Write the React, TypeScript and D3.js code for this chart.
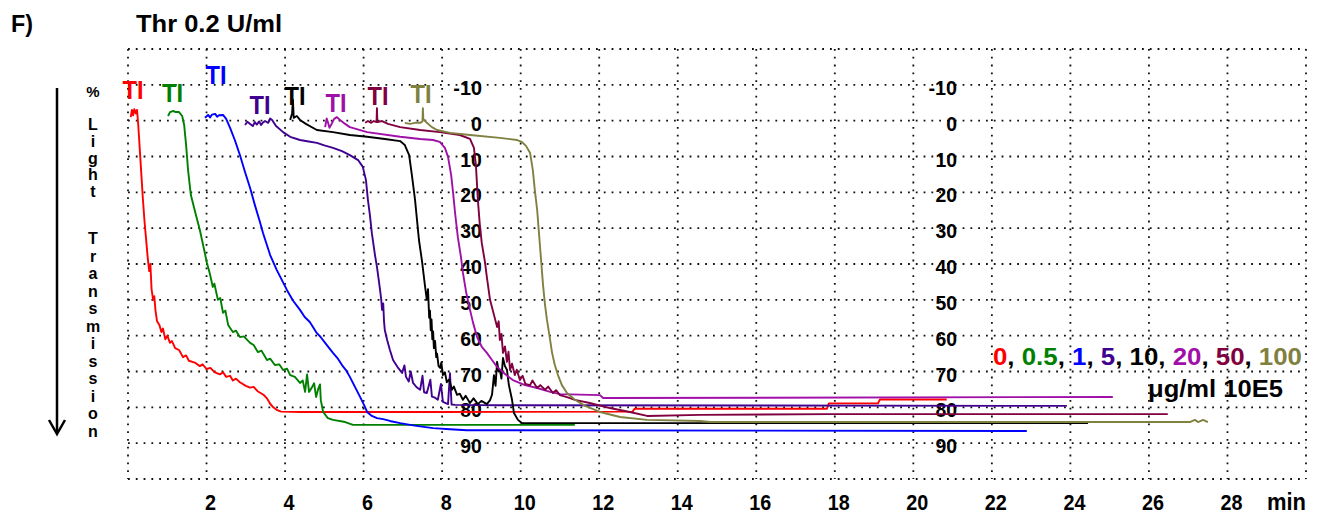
import React from "react";
import * as d3 from "d3";

// ---------- data (time in min, % light transmission; downward = aggregation) ----------
const redData: [number, number][] = [
  [0.07, -1], [0.1, -3], [0.13, -1.5], [0.16, -3.2], [0.2, -2], [0.23, -3], [0.26, 1], [0.3, 8],
  [0.34, 15], [0.38, 22], [0.42, 28], [0.46, 33], [0.5, 38], [0.54, 42], [0.57, 40], [0.6, 47],
  [0.64, 50], [0.67, 49], [0.7, 53], [0.74, 56], [0.8, 57], [0.85, 59], [0.89, 58], [0.95, 61],
  [1.0, 60], [1.07, 62], [1.12, 61.5], [1.2, 63.5], [1.3, 64], [1.4, 66], [1.48, 65.5], [1.55, 67],
  [1.7, 67.5], [1.83, 68.5], [1.9, 68], [2.0, 69.3], [2.1, 69], [2.2, 70.2], [2.34, 70.8], [2.42, 70.2],
  [2.5, 71.5], [2.6, 71.2], [2.67, 72.5], [2.75, 72], [2.85, 73], [3.0, 74], [3.11, 74.5], [3.2, 74.3],
  [3.3, 75.5], [3.45, 76.5], [3.54, 77.5], [3.62, 79], [3.7, 80], [3.8, 80.8], [3.9, 81.2], [4.4, 81.3],
  [8, 81.3], [12.85, 81.2], [12.9, 80.4], [17.8, 80.4], [17.85, 78.9], [19.1, 78.9], [19.15, 77.8],
  [20.85, 77.8],
];
const greenData: [number, number][] = [
  [1.02, -1.3], [1.07, -2.4], [1.15, -2.7], [1.22, -2.4], [1.3, -2.4], [1.38, -1.3], [1.43, 1.2],
  [1.48, 6.8], [1.53, 13.8], [1.6, 20.7], [1.71, 25.5], [1.83, 30.5], [1.94, 36.1], [2.01, 39.7],
  [2.08, 42.5], [2.16, 46.4], [2.2, 45.5], [2.29, 50], [2.35, 49.5], [2.42, 53.6], [2.48, 53], [2.55, 57],
  [2.67, 59], [2.75, 58.6], [2.85, 60.4], [2.95, 60.2], [3.11, 62], [3.2, 62.6], [3.31, 64.6], [3.4, 64.2],
  [3.54, 66.8], [3.62, 66.4], [3.74, 68.2], [3.85, 68], [3.95, 69.6], [4.05, 69.2], [4.13, 71],
  [4.25, 71.5], [4.38, 73.2], [4.45, 72.5], [4.51, 75.7], [4.56, 70.8], [4.61, 75.7], [4.68, 74.5],
  [4.74, 73.3], [4.79, 77.1], [4.84, 75], [4.89, 73.6], [4.91, 78], [4.97, 81.3], [5.09, 83], [5.22, 83.5],
  [5.53, 84.1], [5.73, 84.9], [11.38, 84.9],
];
const blueData: [number, number][] = [
  [1.96, -0.8], [2.04, -1.6], [2.09, -0.9], [2.14, -1.7], [2.22, -1.9], [2.27, -1.1], [2.32, -1.5],
  [2.42, -1.6], [2.5, -0.5], [2.6, 2.0], [2.72, 5.4], [2.85, 9.6], [2.98, 14.3], [3.11, 18.8],
  [3.23, 23.5], [3.36, 28.3], [3.44, 31.4], [3.62, 37.5], [3.79, 41.7], [4.05, 47.3], [4.2, 50.2],
  [4.38, 52.8], [4.5, 54.8], [4.63, 56.2], [4.81, 59.3], [4.9, 60.3], [5.02, 62.0], [5.22, 64.8],
  [5.35, 66.5], [5.45, 68.2], [5.55, 69.6], [5.65, 71.5], [5.78, 74.3], [5.91, 77.1], [6.01, 79.3],
  [6.09, 81.3], [6.21, 82.4], [6.34, 83], [6.5, 83.3], [6.67, 83.8], [6.93, 84.4], [7.3, 85.1],
  [7.77, 85.8], [8.2, 86.1], [8.63, 86.4], [22.89, 86.6],
];
const indigoData: [number, number][] = [
  [2.98, 1.2], [3.04, 0.3], [3.11, 0.9], [3.18, 1.5], [3.23, 0.4], [3.28, 1.1], [3.34, 0.2], [3.39, 1.2],
  [3.44, 0.5], [3.49, 0.1], [3.57, 0.6], [3.62, -0.6], [3.67, -0.2], [3.77, 1.5], [3.95, 3.2],
  [4.13, 4.5], [4.38, 5.4], [4.6, 5.8], [4.81, 6.2], [5.0, 6.9], [5.22, 7.6], [5.45, 8.5], [5.65, 9.6],
  [5.86, 11.0], [5.98, 12.9], [6.06, 16.6], [6.11, 22.1], [6.16, 26.3], [6.21, 31.4], [6.29, 37.5],
  [6.34, 40.8], [6.38, 44], [6.42, 47.3], [6.45, 50], [6.47, 52.8], [6.5, 51], [6.52, 56], [6.54, 58.4],
  [6.6, 61.2], [6.67, 64.0], [6.75, 66.8], [6.88, 69.0], [6.98, 70.4], [7.04, 68.3], [7.08, 71.5],
  [7.15, 72.8], [7.2, 70], [7.26, 73.2], [7.35, 74.4], [7.44, 75.1], [7.5, 71.2], [7.54, 75.8],
  [7.61, 76.0], [7.7, 72.3], [7.74, 77.0], [7.8, 77.2], [7.89, 77.9], [7.97, 73.5], [8.02, 78.5],
  [8.15, 79.1], [8.2, 70.5], [8.24, 79.2], [8.33, 79.3], [9.5, 79.4], [23.91, 79.6],
];
const blackData: [number, number][] = [
  [4.13, -0.2], [4.18, -2.1], [4.2, -5.8], [4.22, -0.8], [4.3, -1.3], [4.38, -0.2], [4.53, 0.9],
  [4.81, 2.6], [5.22, 3.2], [5.65, 4.0], [6.09, 4.5], [6.54, 5.1], [6.93, 5.7], [7.05, 6.8], [7.16, 9.6],
  [7.23, 15.2], [7.31, 22.1], [7.36, 27.7], [7.41, 33.3], [7.49, 39.4], [7.56, 45.8], [7.61, 50],
  [7.64, 47], [7.67, 55], [7.69, 53], [7.71, 58.5], [7.73, 55.5], [7.75, 61], [7.77, 58.8], [7.79, 63.5],
  [7.82, 61.5], [7.85, 66], [7.87, 65], [7.91, 68.5], [7.95, 69], [7.98, 67.5], [8.02, 71], [8.07, 70.2],
  [8.12, 73], [8.18, 72.2], [8.25, 75.1], [8.3, 74.2], [8.38, 76.5], [8.45, 76.2], [8.53, 77.9],
  [8.6, 76.8], [8.71, 78.8], [8.8, 77.5], [8.91, 79.1], [9.0, 78.2], [9.14, 79.1], [9.22, 78],
  [9.27, 76.5], [9.32, 71], [9.36, 74], [9.4, 67.3], [9.44, 70], [9.47, 69.5], [9.51, 72], [9.55, 66.2],
  [9.6, 68.5], [9.65, 69.5], [9.7, 73.8], [9.78, 77.9], [9.83, 81.6], [9.93, 83.5], [10.03, 84.4],
  [24.45, 84.4],
];
const purpleData: [number, number][] = [
  [5.02, 1.8], [5.06, -0.6], [5.09, 0.4], [5.13, 2.0], [5.17, 1.2], [5.25, -0.5], [5.32, -1.0],
  [5.4, -0.2], [5.53, 0.9], [5.65, 1.8], [6.09, 3.2], [6.93, 4.5], [7.44, 5.1], [7.77, 5.4], [7.94, 5.9],
  [8.07, 7.6], [8.15, 10.1], [8.23, 15.2], [8.28, 20.2], [8.33, 25.8], [8.4, 32.5], [8.48, 38.1],
  [8.53, 42.5], [8.61, 47.8], [8.71, 52.8], [8.79, 56.5], [8.89, 60.4], [9.01, 63.1], [9.14, 64.8],
  [9.27, 66.8], [9.4, 68.7], [9.6, 70.7], [9.8, 72.4], [10.11, 73.8], [10.42, 74.6], [10.75, 75.7],
  [11.0, 76.3], [12.02, 76.6], [12.1, 77.4], [25.08, 77.1],
];
const maroonData: [number, number][] = [
  [6.04, 0.6], [6.11, 0.1], [6.19, 0.6], [6.26, 0.1], [6.33, 0.4], [6.34, -3.5], [6.35, 0.4],
  [6.47, 0.1], [6.62, 0.9], [6.93, 1.8], [7.44, 2.6], [7.94, 3.2], [8.45, 4.0], [8.71, 5.1], [8.81, 7.6],
  [8.86, 12.4], [8.91, 22.1], [8.96, 29.1], [9.01, 34.2], [9.09, 39.4], [9.14, 43.7], [9.22, 50.0],
  [9.32, 54.2], [9.4, 57.6], [9.44, 56], [9.47, 61.2], [9.51, 59.5], [9.55, 64.8], [9.6, 63],
  [9.65, 67.3], [9.69, 64.5], [9.73, 69.6], [9.78, 67.8], [9.85, 71], [9.9, 69.5], [9.98, 72.4],
  [10.05, 71.2], [10.12, 73.5], [10.24, 73.8], [10.3, 72.5], [10.42, 74.6], [10.5, 73.8], [10.62, 75.1],
  [10.7, 74.2], [10.82, 76], [10.9, 75.2], [11.0, 76.6], [11.2, 77.2], [11.38, 77.9], [11.76, 78.8],
  [12.27, 80.2], [12.78, 81.3], [13.22, 82.4], [14.57, 82.1], [17.88, 81.9], [26.48, 81.9],
];
const oliveData: [number, number][] = [
  [7.05, 0.6], [7.18, 0.9], [7.31, 0.6], [7.44, 0.6], [7.5, 0.2], [7.51, -3.5], [7.52, -0.5],
  [7.61, 0.6], [7.74, 1.8], [7.87, 2.6], [8.2, 3.4], [8.71, 4.0], [9.47, 4.8], [9.91, 5.4], [10.03, 5.9],
  [10.14, 7.1], [10.24, 9.0], [10.31, 13.8], [10.36, 19.3], [10.42, 24.9], [10.47, 31.9], [10.52, 38.9],
  [10.57, 45.9], [10.62, 51.4], [10.67, 55.6], [10.75, 61.2], [10.8, 64.8], [10.87, 68.2], [10.95, 71],
  [11.05, 73.8], [11.18, 76.0], [11.38, 77.9], [11.64, 79.6], [12.02, 81.3], [12.53, 82.7],
  [13.22, 83.5], [14.57, 83.8], [14.82, 84.1], [27.04, 84.1], [27.17, 83.5], [27.25, 84.1],
  [27.38, 83.5], [27.5, 84.1],
];

const seriesData = [redData, greenData, blueData, indigoData, blackData, purpleData, maroonData, oliveData];
const seriesColors = ["#ff0000", "#008000", "#0000ff", "#400090", "#000000", "#a010a8", "#800040", "#808040"];
const concentrations = ["0", "0.5", "1", "5", "10", "20", "50", "100"];
// "TI" annotation anchors (min, %) for each trace
const tiTimes = [0.127, 1.133, 2.241, 3.361, 4.253, 5.297, 6.366, 7.461];
const tiLevels = [-8.8, -7.9, -13.0, -4.7, -7.2, -5.2, -7.2, -7.7];

const yTickValues = [-10, 0, 10, 20, 30, 40, 50, 60, 70, 80, 90];
const yLabelColumnsMin = [9.0, 21.1];
const xTickValues = [2, 4, 6, 8, 10, 12, 14, 16, 18, 20, 22, 24, 26, 28];
const gridX = d3.range(0, 31, 2);
const gridY = d3.range(-20, 101, 10);
const lightLetters = ["L", "i", "g", "h", "t"];
const transLetters = ["T", "r", "a", "n", "s", "m", "i", "s", "s", "i", "o", "n"];

const W = 1324;
const H = 514;
const FONT = "'Liberation Sans', Arial, Helvetica, sans-serif";

export default function App() {
  const x = d3.scaleLinear().domain([0, 30]).range([128, 1306]);
  const y = d3.scaleLinear().domain([-20, 100]).range([49, 479]);
  const line = d3
    .line<[number, number]>()
    .x((d) => x(d[0]))
    .y((d) => y(d[1]));

  const digitW = (s: string) =>
    s.split("").reduce((a, c) => a + (c === "-" ? 7 : c === "." ? 5 : 10.8), 0);

  return (
    <svg
      width={W}
      height={H}
      viewBox={`0 0 ${W} ${H}`}
      style={{ position: "absolute", left: 0, top: 0, background: "#fff" }}
      fontFamily={FONT}
    >
      <rect x={0} y={0} width={W} height={H} fill="#fff" />
      {/* grid */}
      <g stroke="#111" strokeWidth={1.8} strokeDasharray="1.8 6" fill="none">
        {gridY.map((v) => (
          <line key={"gy" + v} x1={x(0)} x2={x(30)} y1={y(v)} y2={y(v)} />
        ))}
        {gridX.map((v) => (
          <line key={"gx" + v} x1={x(v)} x2={x(v)} y1={y(-20)} y2={y(100)} />
        ))}
      </g>

      {/* title */}
      <text x={11} y={32} fontSize={24} fontWeight="bold" fill="#000" textLength={22} lengthAdjust="spacingAndGlyphs">F)</text>
      <text x={136} y={32} fontSize={23} fontWeight="bold" fill="#000" textLength={146} lengthAdjust="spacingAndGlyphs">
        Thr 0.2 U/ml
      </text>

      {/* left axis label with arrow */}
      <line x1={57} x2={57} y1={88} y2={432} stroke="#000" strokeWidth={2.5} />
      <path d="M49,420 L57,434 L65,420" fill="none" stroke="#000" strokeWidth={2.5} />
      <text x={93} y={97} fontSize={15} fontWeight="bold" textAnchor="middle" fill="#000">%</text>
      {lightLetters.map((c, i) => (
        <text key={"l" + i} x={93} y={130 + i * 16.8} fontSize={16} fontWeight="bold" textAnchor="middle" fill="#000">
          {c}
        </text>
      ))}
      {transLetters.map((c, i) => (
        <text key={"t" + i} x={93} y={244 + i * 17.5} fontSize={16} fontWeight="bold" textAnchor="middle" fill="#000">
          {c}
        </text>
      ))}

      {/* y tick label columns */}
      {yLabelColumnsMin.map((m, ci) => (
        <g key={"col" + ci}>
          {yTickValues.map((v) => {
            const s = String(v);
            return (
              <text
                key={v}
                x={x(m) + 0.5}
                y={y(v) + 10}
                fontSize={21}
                fontWeight="bold"
                textAnchor="end"
                textLength={digitW(s)}
                lengthAdjust="spacingAndGlyphs"
                fill="#000"
              >
                {s}
              </text>
            );
          })}
        </g>
      ))}

      {/* x tick labels */}
      {xTickValues.map((v) => {
        const s = String(v);
        return (
          <text
            key={"x" + v}
            x={x(v) + 4}
            y={510}
            fontSize={22}
            fontWeight="bold"
            textAnchor="middle"
            textLength={s.length * 11}
            lengthAdjust="spacingAndGlyphs"
            fill="#000"
          >
            {s}
          </text>
        );
      })}
      <text x={1267} y={510} fontSize={23} fontWeight="bold" fill="#000" textLength={39} lengthAdjust="spacingAndGlyphs">min</text>

      {/* traces */}
      {seriesData.map((d, i) => (
        <path key={"s" + i} d={line(d) || ""} fill="none" stroke={seriesColors[i]} strokeWidth={1.9} strokeLinejoin="round" />
      ))}

      {/* TI labels */}
      {tiTimes.map((t, i) => (
        <text
          key={"ti" + i}
          x={x(t)}
          y={y(tiLevels[i]) + 10}
          fontSize={26}
          fontWeight="bold"
          textAnchor="middle"
          textLength={21}
          lengthAdjust="spacingAndGlyphs"
          fill={seriesColors[i]}
        >
          TI
        </text>
      ))}

      {/* legend */}
      <text x={993} y={365} fontSize={24} fontWeight="bold" textLength={309} lengthAdjust="spacingAndGlyphs">
        {concentrations.map((c, i) => (
          <React.Fragment key={"lg" + i}>
            <tspan fill={seriesColors[i]}>{c}</tspan>
            {i < concentrations.length - 1 ? <tspan fill="#000">, </tspan> : null}
          </React.Fragment>
        ))}
      </text>
      <text x={1148} y={397} fontSize={23} fontWeight="bold" fill="#000" textLength={135} lengthAdjust="spacingAndGlyphs">
        μg/ml 10E5
      </text>
    </svg>
  );
}
